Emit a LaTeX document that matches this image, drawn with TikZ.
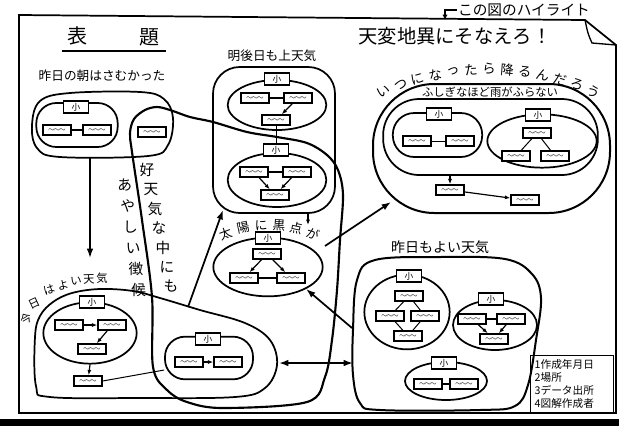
\documentclass[tikz,border=0pt]{standalone}
\usepackage{fontspec}
\setmainfont{Noto Sans CJK JP}
\usetikzlibrary{arrows.meta,shapes.geometric}

\tikzset{every picture/.style={line width=0.75pt}}
\tikzset{
  loopline/.style={line width=1.6pt},
  grp/.style={draw, line width=1.3pt, inner sep=0pt},
  card/.style={draw, fill=white, line width=1.1pt, inner sep=0pt, minimum width=21pt, minimum height=7.5pt},
  sho/.style={draw, fill=white, line width=1pt, inner sep=0pt, minimum width=19pt, minimum height=9pt, font=\fontsize{6.5}{6.5}\selectfont},
  lbl/.style={inner sep=0.75pt, font=\fontsize{9.5}{10}\selectfont},
  arw/.style={-{Latex[length=7pt,width=5pt]}, line width=1.3pt},
  arws/.style={-{Latex[length=4pt,width=3pt]}, line width=0.9pt},
}
\newcommand{\sqg}{$\scriptscriptstyle\sim\!\sim\!\sim$}

\begin{document}
\begin{tikzpicture}[x=0.75pt,y=0.75pt,yscale=-1,xscale=1]
\useasboundingbox (0,0) rectangle (624,426);

%Shape: Frame
\draw [line width=1.3pt]  (19,15) -- (585,20) -- (616,45) -- (616,413) -- (19,413) -- cycle ;
\draw [line width=1pt]  (585,20) .. controls (588,34) .. (592,43) -- (616,45) ;
\fill  (0,419) rectangle (619,426) ;

% Text Node
\draw (77,36) node [lbl, font=\fontsize{15}{15}\selectfont] (hyo) {表};
% Text Node
\draw (149,37) node [lbl, font=\fontsize{15}{15}\selectfont] (dai) {題};
%Straight Lines
\draw [line width=1.2pt]  (62,51) -- (166,51) ;
% Text Node
\draw (524,10) node [lbl, font=\fontsize{11}{11}\selectfont] (hilite) {この図のハイライト};
\coordinate (hlend) at (445,20);
\draw [-{Latex[length=4pt,width=4pt]}, line width=1.2pt]  (hilite.west) -| (hlend) ;
% Text Node
\draw (455,36) node [lbl, font=\fontsize{14.5}{15}\selectfont] (tenpen) {天変地異にそなえろ！};

%Curve Lines: long loop
\draw [loopline]  plot [smooth cycle, tension=0.55] coordinates {(190,117) (170,110) (157,107) (145,110) (134,119) (130,133) (132,152) (142,220) (152,297) (153,367) (167,390) (187,402) (223,408) (307,402) (325,377) (332,340) (337,290) (340,240) (343,195) (338,170) (327,155) (307,143) (277,137) (247,132) (213,122)} ;
% Text Node
\foreach \c [count=\i] in {好,天,気,な,中,に,も}
  \draw ({143+4*\i},{150+19.5*\i}) node [lbl, font=\fontsize{11}{11}\selectfont] (kou\i) {\c};
% Text Node
\foreach \c [count=\i] in {あ,や,し,い,徴,候}
  \draw ({122+2.8*\i},{164+21*\i}) node [lbl, font=\fontsize{11}{11}\selectfont] (aya\i) {\c};

%Group A
\draw (102,76) node [lbl] (lblA) {昨日の朝はさむかった};
\draw [grp]  plot [smooth cycle, tension=0.6] coordinates {(32,125) (40,101) (70,93) (140,92) (164,99) (173,118) (168,145) (148,156) (60,157) (37,148)} ;
\draw (77,125) node [grp, rounded corners=15pt, minimum width=61pt, minimum height=33pt] (sA) {};
\draw (76,107) node [sho] (kA) {小};
\draw (57,130) node [card] (a1) {\sqg};
\draw (97,130) node [card] (a2) {\sqg};
\draw [line width=1.3pt]  (a1) -- (a2) ;
\draw (152,132) node [card] (a3) {\sqg};
\coordinate (Abot) at (90,157);
\coordinate (Ktop) at (90,258);
\draw [arw]  (Abot) -- (Ktop) ;

%Group K
\foreach \c/\x/\y/\r in {今/26/319/30, 日/34/303/25, は/49/290/18, よ/63/285/12, い/76/281/6, 天/89/279/2, 気/102/278/0}
  \draw (\x,\y) node [inner sep=0pt, rotate=\r, font=\fontsize{8.5}{9}\selectfont] (kyo\c) {\c};
\draw [grp]  plot [smooth cycle, tension=0.6] coordinates {(35,337) (40,316) (53,302) (72,293) (100,289) (133,291) (160,298) (200,310) (245,323) (270,340) (277,365) (265,388) (235,397) (140,398) (50,397) (36,386)} ;
\draw (90,333) node [grp, ellipse, minimum width=70pt, minimum height=46pt] (sK1) {};
\draw (92,302) node [sho] (kK1) {小};
\draw (69,325) node [card] (k1) {\sqg};
\draw (112,325) node [card] (k2) {\sqg};
\draw (92,349) node [card] (k3) {\sqg};
\draw [arws]  (k1) -- (k2) ;
\draw [arws]  (k2) -- (k3) ;
\draw (88,381) node [card] (k4) {\sqg};
\draw [arws]  (sK1.south) -- (k4) ;
\draw (209,358) node [grp, rounded corners=15pt, minimum width=66pt, minimum height=32pt] (sK2) {};
\draw (208,339) node [sho] (kK2) {小};
\draw (189,362) node [card] (k5) {\sqg};
\draw (228,362) node [card] (k6) {\sqg};
\draw [arws]  (k5) -- (k6) ;
\draw  (k4.east) -- (sK2.195) ;
\coordinate (Kend) at (279,363);
\coordinate (Yleft) at (353,363);
\draw [{Latex[length=7pt,width=5pt]}-{Latex[length=7pt,width=5pt]}, line width=1.3pt]  (Kend) -- (Yleft) ;
\coordinate (Kup) at (188,307);
\coordinate (Mbl) at (223,210);
\draw [arw]  (Kup) -- (Mbl) ;

%Group M
\draw (272,56) node [lbl] (lblM) {明後日も上天気};
\draw (274,140) node [grp, rounded corners=20pt, minimum width=91.5pt, minimum height=109.5pt] (M) {};
\draw (277,105) node [grp, ellipse, minimum width=74pt, minimum height=37.5pt] (sM1) {};
\draw (277,79) node [sho] (kM1) {小};
\draw (255,98) node [card] (m1) {\sqg};
\draw (298,98) node [card] (m2) {\sqg};
\draw (276,120) node [card] (m3) {\sqg};
\draw [line width=2pt]  (m1) -- (m2) ;
\draw [arws]  (m2) -- (m3) ;
\draw (277,180) node [grp, ellipse, minimum width=74pt, minimum height=40.5pt] (sM2) {};
\draw (276,150) node [sho] (kM2) {小};
\draw  (m3) -- (kM2) ;
\draw (254,172) node [card] (m4) {\sqg};
\draw (297,172) node [card] (m5) {\sqg};
\draw (275,195) node [card] (m6) {\sqg};
\draw [line width=1.6pt]  (m4) -- (m5) ;
\draw [arws]  (m4) -- (m6) ;
\draw [arws]  (m5) -- (m6) ;
\coordinate (Mbr) at (308,213);
\coordinate (Ttop) at (308,225);
\draw [arws]  (Mbr) -- (Ttop) ;

%Group T
\foreach \c/\x/\y/\r in {太/226/234/20, 陽/243/228/12, に/261/225/4, 黒/279/225/-4, 点/296/228/-12, が/313/234/-20}
  \draw (\x,\y) node [inner sep=0pt, rotate=\r, font=\fontsize{9.5}{10}\selectfont] (tai\c) {\c};
\draw (268,267) node [grp, ellipse, minimum width=82pt, minimum height=44pt] (sT) {};
\draw (268,238) node [sho] (kT) {小};
\draw (267,254) node [card] (t1) {\sqg};
\draw (244,278) node [card] (t2) {\sqg};
\draw (291,278) node [card] (t3) {\sqg};
\draw [line width=1.8pt]  (t2) -- (t3) ;
\draw [arws]  (t1) -- (t2) ;
\draw [arws]  (t1) -- (t3) ;
\coordinate (Tne) at (325,246);
\coordinate (Rin) at (391,202);
\draw [arw]  (Tne) -- (Rin) ;

%Group R
\foreach \c [count=\i from 0] in {い,つ,に,な,っ,た,ら,降,る,ん,だ,ろ,う} {
  \pgfmathsetmacro{\t}{-24.7+4.117*\i}
  \pgfmathsetmacro{\r}{24.7-4.117*\i}
  \draw ({489+251*sin(\t)},{320-251*cos(\t)}) node [lbl, rotate=\r, font=\fontsize{10}{10}\selectfont] (rain\i) {\c};
}
\draw (491.5,148.5) node [grp, line width=1.5pt, rounded corners=46pt, minimum width=177.75pt, minimum height=96.75pt] (R) {};
\draw (490,92) node [lbl, font=\fontsize{8.5}{9}\selectfont] (lblR) {ふしぎなほど雨がふらない};
\draw (490.5,137) node [grp, rounded corners=27pt, minimum width=161pt, minimum height=57pt] (R2) {};
\draw (437.5,135) node [grp, rounded corners=16pt, minimum width=67pt, minimum height=33pt] (sR1) {};
\draw (439,114) node [sho] (kR1) {小};
\draw (417,141) node [card] (r1) {\sqg};
\draw (460,141) node [card] (r2) {\sqg};
\draw  (r1) -- (r2) ;
\draw (542,141) node [grp, ellipse, minimum width=82pt, minimum height=40pt] (sR2) {};
\draw (538,115) node [sho] (kR2) {小};
\draw (537,133) node [card] (r3) {\sqg};
\draw (516,156) node [card] (r4) {\sqg};
\draw (555,156) node [card] (r5) {\sqg};
\draw  (r3) -- (r4) ;
\draw  (r3) -- (r5) ;
\draw (450,190) node [card] (r6) {\sqg};
\draw (525,200) node [card] (r7) {\sqg};
\draw [arws]  (r6 |- R2.south) -- (r6) ;
\draw [arws]  (r6) -- (r7) ;

%Group Y
\draw (440,247) node [lbl, font=\fontsize{10.5}{11}\selectfont] (lblY) {昨日もよい天気};
\draw [grp, line width=1.5pt]  plot [smooth cycle, tension=0.6] coordinates {(353,330) (357,280) (375,260) (440,257) (505,259) (532,274) (541,298) (536,340) (528,385) (515,406) (480,410) (380,410) (360,403) (353,375)} ;
\coordinate (Yw) at (352,328);
\draw [arw]  (Yw) -- (sT.-30) ;
\draw (407,312) node [grp, ellipse, minimum width=64pt, minimum height=56pt] (sY1) {};
\draw (409,276) node [sho] (kY1) {小};
\draw (409,296) node [card] (y1) {\sqg};
\draw (390,316) node [card] (y2) {\sqg};
\draw (425,316) node [card] (y3) {\sqg};
\draw (408,336) node [card] (y4) {\sqg};
\draw  (y1) -- (y2) ;
\draw  (y1) -- (y3) ;
\draw  (y2) -- (y4) ;
\draw  (y3) -- (y4) ;
\draw (495,325) node [grp, ellipse, minimum width=63pt, minimum height=37.5pt] (sY2) {};
\draw (491,299) node [sho] (kY2) {小};
\draw (472,319) node [card] (y5) {\sqg};
\draw (511,319) node [card] (y6) {\sqg};
\draw (494,339) node [card] (y7) {\sqg};
\draw [line width=1.3pt]  (y5) -- (y6) ;
\draw [arws]  (y5) -- (y7) ;
\draw [arws]  (y6) -- (y7) ;
\draw (446,381) node [grp, ellipse, minimum width=61.5pt, minimum height=28.5pt] (sY3) {};
\draw (444,363) node [sho] (kY3) {小};
\draw (428,384) node [card] (y8) {\sqg};
\draw (464,384) node [card] (y9) {\sqg};
\draw [line width=1.3pt]  (y8) -- (y9) ;

% Text Node
\draw (572,384) node [draw, line width=1pt, inner sep=3pt, text width=56pt, align=left, font=\fontsize{8}{9.8}\selectfont] (legend) {1作成年月日\\2場所\\3データ出所\\4図解作成者};

\end{tikzpicture}
\end{document}
